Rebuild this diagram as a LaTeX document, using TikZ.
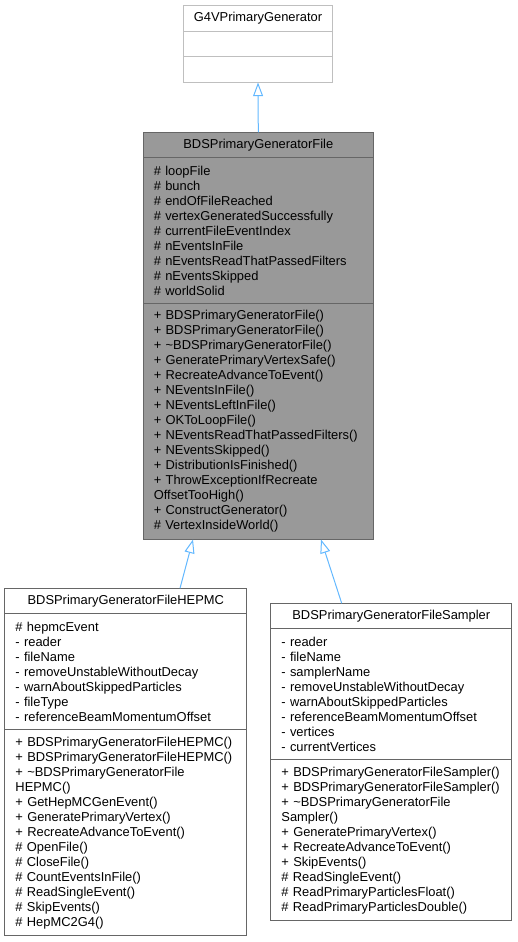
\documentclass[tikz,border=0pt]{standalone}
\usepackage{fontspec}
\setmainfont{Liberation Sans}
\usetikzlibrary{positioning,arrows.meta}
\definecolor{edgegray}{HTML}{666666}
\definecolor{lightedge}{HTML}{BFBFBF}
\definecolor{mainfill}{HTML}{999999}
\definecolor{inheritblue}{HTML}{63B8FF}

\tikzset{
  classbox/.style={draw=edgegray, fill=white, line width=1pt, inner sep=0pt, outer sep=0pt,
    font=\fontsize{12.9}{15}\selectfont},
  classhead/.style={classbox, minimum height=25.6pt, align=center},
  members/.style={classbox, inner xsep=10.5pt, text width=#1, align=left},
  inherit/.style={draw=inheritblue, line width=1pt, -{Triangle[open, length=13.7pt, width=10pt]}}
}

\begin{document}
\begin{tikzpicture}[x=1pt, y=1pt]
    \useasboundingbox (0,0) rectangle (517,-942);

    % base class
    \node[classhead, draw=lightedge, minimum width=149.4pt, anchor=north] (g4v) at (258,-5.7) {G4VPrimaryGenerator};
    \node[classhead, draw=lightedge, minimum width=149.4pt, below=0pt of g4v] (g4vattr) {};
    \node[classhead, draw=lightedge, minimum width=149.4pt, below=0pt of g4vattr] (g4vops) {};

    % documented class
    \node[classhead, fill=mainfill, minimum width=230pt, anchor=north] (file) at (258.3,-132.3) {BDSPrimaryGeneratorFile};
    \node[members=209pt, fill=mainfill, minimum height=145.6pt, below=0pt of file] (fileattr) {%
        \#~loopFile\\ \#~bunch\\ \#~endOfFileReached\\ \#~vertexGeneratedSuccessfully\\
        \#~currentFileEventIndex\\ \#~nEventsInFile\\ \#~nEventsReadThatPassedFilters\\
        \#~nEventsSkipped\\ \#~worldSolid};
    \node[members=209pt, fill=mainfill, minimum height=236pt, below=0pt of fileattr] (fileops) {%
        +~BDSPrimaryGeneratorFile()\\ +~BDSPrimaryGeneratorFile()\\ +~\textasciitilde BDSPrimaryGeneratorFile()\\
        +~GeneratePrimaryVertexSafe()\\ +~RecreateAdvanceToEvent()\\ +~NEventsInFile()\\
        +~NEventsLeftInFile()\\ +~OKToLoopFile()\\ +~NEventsReadThatPassedFilters()\\
        +~NEventsSkipped()\\ +~DistributionIsFinished()\\ +~ThrowExceptionIfRecreate\\
        OffsetTooHigh()\\ +~ConstructGenerator()\\ \#~VertexInsideWorld()};

    % derived classes
    \node[classhead, minimum width=241.7pt, anchor=north] (hepmc) at (125.8,-588.3) {BDSPrimaryGeneratorFileHEPMC};
    \node[members=220.7pt, minimum height=116pt, below=0pt of hepmc] (hepmcattr) {%
        \#~hepmcEvent\\ -~reader\\ -~fileName\\ -~removeUnstableWithoutDecay\\
        -~warnAboutSkippedParticles\\ -~fileType\\ -~referenceBeamMomentumOffset};
    \node[members=220.7pt, minimum height=206pt, below=0pt of hepmcattr] (hepmcops) {%
        +~BDSPrimaryGeneratorFileHEPMC()\\ +~BDSPrimaryGeneratorFileHEPMC()\\
        +~\textasciitilde BDSPrimaryGeneratorFile\\ HEPMC()\\ +~GetHepMCGenEvent()\\
        +~GeneratePrimaryVertex()\\ +~RecreateAdvanceToEvent()\\ \#~OpenFile()\\ \#~CloseFile()\\
        \#~CountEventsInFile()\\ \#~ReadSingleEvent()\\ \#~SkipEvents()\\ \#~HepMC2G4()};

    \node[classhead, minimum width=240.7pt, anchor=north] (sampler) at (391.3,-603.3) {BDSPrimaryGeneratorFileSampler};
    \node[members=219.7pt, minimum height=131pt, below=0pt of sampler] (samplerattr) {%
        -~reader\\ -~fileName\\ -~samplerName\\ -~removeUnstableWithoutDecay\\
        -~warnAboutSkippedParticles\\ -~referenceBeamMomentumOffset\\ -~vertices\\ -~currentVertices};
    \node[members=219.7pt, minimum height=161pt, below=0pt of samplerattr] (samplerops) {%
        +~BDSPrimaryGeneratorFileSampler()\\ +~BDSPrimaryGeneratorFileSampler()\\
        +~\textasciitilde BDSPrimaryGeneratorFile\\ Sampler()\\ +~GeneratePrimaryVertex()\\
        +~RecreateAdvanceToEvent()\\ +~SkipEvents()\\ \#~ReadSingleEvent()\\
        \#~ReadPrimaryParticlesFloat()\\ \#~ReadPrimaryParticlesDouble()};

    % inheritance
    \draw[inherit] (file.north) -- (g4vops.south);
    \draw[inherit] ([xshift=54.2pt]hepmc.north) -- ([xshift=-65.3pt]fileops.south);
    \draw[inherit] ([xshift=-49.6pt]sampler.north) -- ([xshift=62.7pt]fileops.south);
\end{tikzpicture}
\end{document}
